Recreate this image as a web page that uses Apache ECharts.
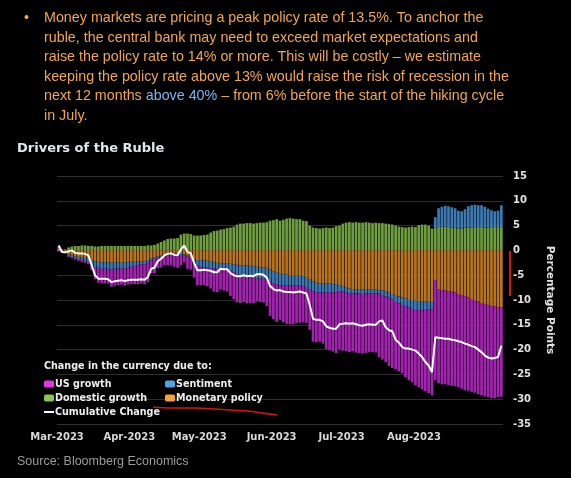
<!DOCTYPE html>
<html><head><meta charset="utf-8">
<script src="https://cdn.jsdelivr.net/npm/echarts@6/dist/echarts.min.js"></script>
<style>html,body{margin:0;padding:0;background:#000;}#c{width:571px;height:478px;}</style>
</head><body><div id="c"></div>
<script>
// ---- text ----
const paragraphLines = [
  'Money markets are pricing a peak policy rate of 13.5%. To anchor the',
  'ruble, the central bank may need to exceed market expectations and',
  'raise the policy rate to 14% or more. This will be costly \u2013 we estimate',
  'keeping the policy rate above 13% would raise the risk of recession in the',
  'next 12 months {b|above 40%} \u2013 from 6% before the start of the hiking cycle',
  'in July.'
];
const chartTitle = 'Drivers of the Ruble';
const sourceText = 'Source: Bloomberg Economics';
const legendHeading = 'Change in the currency due to:';
const axisName = 'Percentage Points';

// ---- axis ticks ----
const monthLabels = ['Mar-2023', 'Apr-2023', 'May-2023', 'Jun-2023', 'Jul-2023', 'Aug-2023'];
const monthStarts = [[2023, 2, 1], [2023, 3, 1], [2023, 4, 1], [2023, 5, 1], [2023, 6, 1], [2023, 7, 1]];
const yMin = -35, yMax = 15, yStep = 5;

// ---- series (percentage points, one value per business day from 1 Mar 2023) ----
const domesticGrowth = [
  0.3, 0.2, 0.2, 0.6, 0.8, 0.9, 0.9, 1.0, 1.0, 0.9,
  0.9, 0.8, 0.8, 0.9, 0.9, 0.9, 0.9, 0.9, 0.9, 0.9, 0.9, 0.9, 0.9, 0.9, 0.9, 0.9, 0.9, 1.0,
  1.0, 1.1, 1.4, 1.7,
  2.0, 2.3, 2.4, 2.4, 2.5,
  3.2, 3.4, 3.4, 3.3,
  3.0, 3.0, 3.0, 3.1, 3.2, 3.6,
  3.9, 4.0, 4.2, 4.3, 4.5, 4.6, 4.8,
  5.2, 5.4, 5.4, 5.5, 5.5, 5.4, 5.5, 5.6, 5.6, 5.7,
  6.0, 6.1, 6.3, 6.0, 6.2, 6.4, 6.5, 6.4, 6.3, 6.3, 6.0, 5.9,
  5.0, 4.6, 4.5, 4.4, 4.5, 4.6, 4.5, 4.6, 4.9,
  5.0, 5.4,
  5.6, 5.7, 5.6, 5.7, 5.6, 5.6, 5.7, 5.6, 5.5, 5.6, 5.5, 5.5, 5.4, 5.3,
  5.2, 5.0,
  4.8, 4.7, 4.6, 4.7, 4.8, 4.7,
  5.1, 5.2, 5.2, 5.0, 4.4,
  4.5, 4.7, 4.8, 4.8, 4.7, 4.6, 4.5, 4.4, 4.4, 4.5, 4.6, 4.6, 4.7, 4.7, 4.7, 4.6, 4.6, 4.7, 4.7, 4.7, 4.7
];
const monetaryPolicy = [
  -0.2, -0.3, -0.3, -0.8, -1.0, -1.2, -1.3, -1.4, -1.5, -1.6,
  -2.0, -2.2, -2.3, -2.4, -2.4, -2.4, -2.5, -2.4, -2.4, -2.5, -2.4, -2.4, -2.3, -2.3, -2.3, -2.2, -2.2,
  -2.0, -1.6, -1.4, -1.2, -1.0, -0.9, -0.8,
  -0.7, -0.6, -0.6, -0.7, -0.8, -1.0, -1.4,
  -1.8, -2.0, -2.0, -2.0, -2.1, -2.2, -2.4, -2.5,
  -2.6, -2.6, -2.7, -2.7, -2.8, -2.9,
  -3.0, -3.0, -3.0, -3.1, -3.2, -3.3,
  -3.4, -3.4, -3.5, -3.8, -4.2, -4.5,
  -4.7, -4.8, -4.9, -5.0, -5.0, -5.0, -5.1, -5.2, -5.4,
  -5.8, -6.3, -6.5, -6.6, -6.7, -6.7, -6.7, -6.8, -6.8,
  -7.0, -7.2, -7.5, -7.7, -7.8, -7.8, -7.8, -7.9, -7.8, -7.8, -7.9, -7.9, -8.0,
  -8.1, -8.3, -8.5, -8.8, -9.0, -9.3, -9.5, -9.7, -9.8, -10.0, -10.1,
  -10.2, -10.3, -10.3, -10.2, -10.2,
  -6.0, -7.8, -8.0, -8.1, -8.2, -8.3, -8.5, -8.8, -9.0, -9.2,
  -9.5, -9.8, -10.0, -10.3, -10.6, -10.8, -11.0, -11.2, -11.3, -11.4, -11.5
];
const sentiment = [
  0.0, -0.1, 0.0, -0.3, -0.4, -0.4, -0.5, -0.5, -0.6, -0.7,
  -1.0, -1.2, -1.2, -1.3, -1.3, -1.3, -1.3, -1.3, -1.2, -1.2, -1.2, -1.1, -1.0, -0.8, -0.7, -0.6, -0.6,
  -0.5, -0.4, -0.3, -0.3, -0.3, -0.2, -0.2, -0.2, -0.2, -0.2, -0.2, -0.2, -0.2, -0.3,
  -0.6, -1.0, -1.3, -1.4, -1.4, -1.4, -1.3, -1.2,
  -1.2, -1.1, -1.2, -1.4, -1.6, -2.0,
  -2.2, -2.3, -2.3, -2.4, -2.4, -2.4, -2.3, -2.3, -2.3,
  -2.4, -2.4, -2.3, -2.3, -2.2, -2.1, -2.0, -2.0, -2.0, -1.9, -2.0, -2.0,
  -2.0, -2.0, -1.9, -1.9, -1.8, -1.8, -1.7, -1.7, -1.6,
  -1.2, -1.1, -1.0, -0.9, -0.9, -0.9, -0.9, -0.9, -0.9, -0.9, -0.8, -0.8, -0.7,
  -0.9, -1.0, -1.0, -1.1, -1.2, -1.4, -1.5, -1.6, -1.7, -1.8, -1.9,
  -1.8, -1.8, -1.7, -1.7, -1.6,
  2.2, 3.8, 4.0, 4.2, 4.2, 4.1, 4.0, 3.6, 3.5, 3.8, 4.3, 4.5, 4.5, 4.4, 4.4, 4.2, 3.8, 3.4, 3.2, 3.3, 4.4
];
const usGrowth = [
  0.5, -0.1, -0.3, -0.2, -0.2, -0.3, -0.3, -0.4, -0.4, -0.5,
  -0.9, -2.4, -3.0, -2.9, -2.9, -3.0, -3.5, -3.4, -3.4, -3.2, -3.5, -3.4, -3.5, -3.7, -3.8, -3.9, -4.0, -3.9,
  -2.7, -2.9, -2.1, -2.1, -1.9, -2.0, -2.1, -2.5, -2.7, -2.1, -1.4, -2.5, -2.2,
  -3.1, -4.0, -3.7, -3.6, -3.7, -4.1, -4.6, -4.7, -4.1, -4.4, -4.4, -5.1, -5.4, -5.5, -5.4, -5.1, -5.4, -5.1, -5.0, -4.6, -4.7, -4.8, -5.4,
  -7.0, -7.3, -7.6, -7.0, -7.5, -7.8, -7.9, -7.9, -7.7, -7.6, -7.3, -7.2,
  -8.2, -10.1, -10.1, -9.9, -10.3, -11.4, -11.7, -11.9, -12.3,
  -11.7, -11.9, -11.8, -11.9, -11.6, -11.9, -12.0, -12.0, -12.0, -11.8, -11.8, -11.9,
  -12.8, -13.0, -13.2, -13.8, -13.8, -13.8, -13.7, -13.8,
  -14.3, -14.7, -14.8, -15.2, -15.6, -15.9, -16.4, -16.9, -17.4,
  -20.2, -19.0, -19.0, -18.9, -19.0, -19.0, -18.9, -18.8, -18.9, -19.0, -18.8, -18.7, -18.7, -18.7, -18.6, -18.6, -18.6, -18.6, -18.5, -18.2, -18.0
];
const cumulativeChange = [
  1.0, -0.3, -0.4, -0.2, 0.0, -0.5, -0.6, -0.6, -0.7, -1.0,
  -3.0, -5.0, -5.7, -5.7, -5.7, -5.8, -6.4, -6.2, -6.1, -6.0, -6.2, -6.0, -5.9, -5.9, -5.9, -5.8, -5.9, -5.4,
  -3.7, -3.5, -2.2, -1.7, -1.0, -0.7, -0.6, -0.9, -1.0, 0.2, 1.0, -0.3, -0.6,
  -2.5, -4.0, -4.0, -3.9, -4.0, -4.1, -4.4, -4.4, -3.7, -3.8, -3.8, -4.6, -5.0, -5.2, -5.2, -5.0, -5.2, -5.1, -5.2, -4.8, -4.8, -4.9, -5.5,
  -7.2, -7.8, -8.1, -8.0, -8.3, -8.4, -8.4, -8.5, -8.4, -8.3, -8.5, -8.7,
  -11.0, -13.8, -14.0, -14.0, -14.3, -15.3, -15.6, -15.8, -15.8,
  -14.9, -14.8, -14.7, -14.8, -14.7, -14.9, -15.1, -15.2, -15.0, -14.9, -15.0, -15.0,
  -14.3, -14.1, -15.5, -16.1, -16.3, -18.0, -18.6, -19.5,
  -19.8, -19.8, -20.0, -20.2, -20.8, -21.5, -22.5, -23.2, -24.6,
  -17.5, -17.6, -17.7, -17.8, -17.8, -18.0, -18.1, -18.3, -18.5, -18.8, -19.0, -19.3, -19.5, -20.0, -20.5, -21.2, -21.6, -21.8, -21.7, -21.5, -19.2
];

// business-day categories starting 1 Mar 2023
function businessDays(y, m, d, n) {
  const out = [];
  const dt = new Date(y, m, d);
  while (out.length < n) {
    const wd = dt.getDay();
    if (wd !== 0 && wd !== 6) {
      out.push(dt.getFullYear() + '-' + (dt.getMonth() + 1) + '-' + dt.getDate());
    }
    dt.setDate(dt.getDate() + 1);
  }
  return out;
}
const days = businessDays(2023, 2, 1, cumulativeChange.length);
const DAY = 86400000;
const t0 = Date.UTC(2023, 2, 1);
// calendar-day offsets of the month labels from 1 Mar 2023
const monthOffsets = monthStarts.map(a => Math.round((Date.UTC(a[0], a[1], a[2]) - t0) / DAY));
const calendarSpan = 191.2; // calendar days covered by the plot width

const chart = echarts.init(document.getElementById('c'), null, {renderer: 'canvas'});

const AX_FONT = 'DejaVu Sans';
const PARA_FONT = '14.3px "Liberation Sans", Arial, sans-serif';
const ORANGE_TXT = '#f3a64c';

const graphics = [];
graphics.push({type: 'text', left: 24, top: 11, style: {text: '\u2022', fill: ORANGE_TXT, font: PARA_FONT}});
paragraphLines.forEach((t, i) => {
  graphics.push({
    type: 'text', left: 44, top: 11 + i * 19.6,
    style: {text: t, fill: ORANGE_TXT, font: PARA_FONT, rich: {b: {fill: '#7db4ee', font: PARA_FONT}}}
  });
});
graphics.push({type: 'text', left: 17, top: 142, style: {text: chartTitle, fill: '#dfe8ec', font: 'bold 13px "DejaVu Sans"'}});
graphics.push({type: 'text', left: 17, top: 455, style: {text: sourceText, fill: '#9c9c9c', font: '12.5px "Liberation Sans", Arial, sans-serif'}});
graphics.push({type: 'text', left: 44, top: 361, style: {text: legendHeading, fill: '#eeeeee', font: 'bold 9.6px "DejaVu Sans"'}});
// hand-drawn red annotations present in the reference image
graphics.push({type: 'polyline', shape: {points: [[510, 251], [510, 296]]}, style: {stroke: '#d41414', lineWidth: 2}});
graphics.push({type: 'polyline', shape: {points: [[153, 407], [170, 408], [195, 408], [215, 409], [230, 410], [248, 411], [262, 413], [277, 415]], smooth: 0.3}, style: {stroke: '#d41414', lineWidth: 1.6}});

const legendText = {color: '#eeeeee', fontFamily: AX_FONT, fontWeight: 'bold', fontSize: 9.6, lineHeight: 12, padding: [0, 0, 0, -4]};

chart.setOption({
  animation: false,
  backgroundColor: '#000000',
  grid: {left: 57, right: 68, top: 176, bottom: 54, containLabel: false},
  legend: [
    {orient: 'vertical', left: 44, top: 378, padding: 0, itemGap: 2, itemWidth: 10, itemHeight: 7, textStyle: legendText,
     data: [{name: 'US growth', itemStyle: {color: '#e335e6'}},
            {name: 'Domestic growth', itemStyle: {color: '#8cc258'}},
            {name: 'Cumulative Change', icon: 'path://M0,0L10,0L10,2L0,2Z', itemStyle: {color: '#ffffff'}}]},
    {orient: 'vertical', left: 165, top: 378, padding: 0, itemGap: 2, itemWidth: 10, itemHeight: 7, textStyle: legendText,
     data: [{name: 'Sentiment', itemStyle: {color: '#4aa6e6'}},
            {name: 'Monetary policy', itemStyle: {color: '#f5a52e'}}]}
  ],
  xAxis: [
    {type: 'category', data: days, boundaryGap: true, axisLine: {show: false}, axisTick: {show: false}, axisLabel: {show: false}, splitLine: {show: false}},
    {type: 'value', position: 'bottom', min: 0, max: calendarSpan,
     axisLine: {show: false}, axisTick: {show: false}, splitLine: {show: false},
     axisLabel: {customValues: monthOffsets, color: '#d8d8d8', fontFamily: AX_FONT, fontWeight: 'bold', fontSize: 10, margin: 8,
       formatter: function (v) { const k = monthOffsets.indexOf(Math.round(v)); return k >= 0 ? monthLabels[k] : ''; }}}
  ],
  yAxis: {
    type: 'value', position: 'right', min: yMin, max: yMax, interval: yStep,
    name: axisName, nameLocation: 'middle', nameRotate: -90, nameGap: 41,
    nameTextStyle: {color: '#e2e2e2', fontFamily: AX_FONT, fontWeight: 'bold', fontSize: 10.5},
    axisLine: {show: false}, axisTick: {show: false},
    axisLabel: {color: '#e2e2e2', fontFamily: AX_FONT, fontWeight: 'bold', fontSize: 10, margin: 10},
    splitLine: {lineStyle: {color: '#2e2e2e', width: 1}}
  },
  graphic: graphics,
  series: [
    {name: 'Domestic growth', type: 'bar', stack: 'drivers', data: domesticGrowth, barCategoryGap: '18%', itemStyle: {color: '#6f9e40'}},
    {name: 'Monetary policy', type: 'bar', stack: 'drivers', data: monetaryPolicy, itemStyle: {color: '#b9741f'}},
    {name: 'Sentiment', type: 'bar', stack: 'drivers', data: sentiment, itemStyle: {color: '#3c7ab4'}},
    {name: 'US growth', type: 'bar', stack: 'drivers', data: usGrowth, itemStyle: {color: '#a224b0'}},
    {name: 'Cumulative Change', type: 'line', data: cumulativeChange, symbol: 'none', showSymbol: false,
     lineStyle: {color: '#ffffff', width: 2}, itemStyle: {color: '#ffffff'}, z: 5}
  ]
});
</script>
</body></html>
